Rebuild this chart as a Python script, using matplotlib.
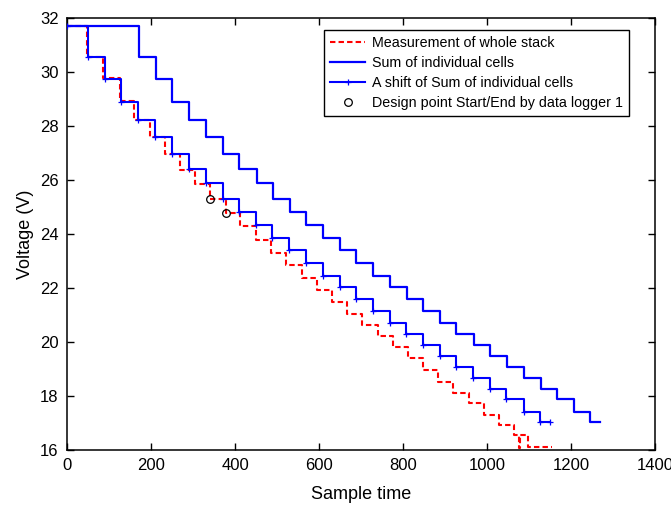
import matplotlib
matplotlib.use("Agg")
import matplotlib.pyplot as plt
import numpy as np

plt.rcParams['font.family'] = ['Liberation Sans', 'DejaVu Sans']

# Sum of individual cells: time of each voltage drop and the level after it
sum_start = 31.7
sum_drop_t = [171, 211, 249, 290, 330, 371, 410, 452, 491, 530, 570, 609, 649, 689,
              729, 769, 809, 848, 888, 927, 968, 1007, 1047, 1087, 1128, 1166, 1207, 1245]
sum_levels = [30.57, 29.73, 28.90, 28.21, 27.60, 26.97, 26.40, 25.87, 25.31, 24.82, 24.32,
              23.85, 23.39, 22.93, 22.46, 22.03, 21.60, 21.15, 20.71, 20.31, 19.89, 19.48,
              19.06, 18.66, 18.26, 17.88, 17.42, 17.05]
sum_end_t = 1269

# the shifted curve is the same sum moved back in time
shift_offset = 120

# Measurement of whole stack
meas_start = 31.7
meas_drop_t = [48, 86, 125, 160, 198, 233, 269, 305, 340, 378, 412, 450, 485, 522, 559, 595,
               630, 666, 702, 740, 775, 811, 847, 883, 920, 957, 993, 1029, 1065, 1077, 1079, 1098]
meas_levels = [30.57, 29.77, 28.93, 28.22, 27.58, 26.95, 26.37, 25.84, 25.30, 24.79, 24.30,
               23.78, 23.31, 22.85, 22.38, 21.94, 21.49, 21.04, 20.62, 20.23, 19.81, 19.39,
               18.96, 18.53, 18.12, 17.73, 17.30, 16.93, 16.56, 16.07, 16.56, 16.12]
meas_end_t = 1154

# design points (start / end) from data logger 1
design_t = [340, 378]
design_v = [25.30, 24.79]

sum_t = np.array([0] + sum_drop_t + [sum_end_t], dtype=float)
sum_v = np.array([sum_start] + sum_levels + [sum_levels[-1]])
shift_t = sum_t - shift_offset
shift_t[0] = 0
# drop the first point that would fall below zero after the shift
keep = np.concatenate([[True], sum_t[1:] - shift_offset > 0])
shift_t, shift_v = shift_t[keep], sum_v[keep]

meas_t = np.array([0] + meas_drop_t + [meas_end_t], dtype=float)
meas_v = np.array([meas_start] + meas_levels + [meas_levels[-1]])

fig = plt.figure(figsize=(6.71, 5.08), dpi=100)
ax = fig.add_axes([0.0999, 0.1142, 0.8763, 0.8504])

ax.plot(meas_t, meas_v, color='red', ls='--', lw=1.5, drawstyle='steps-post',
        dashes=(2.6, 1.5), label='Measurement of whole stack', zorder=2)
ax.plot(sum_t, sum_v, color='blue', lw=1.6, drawstyle='steps-post',
        label='Sum of individual cells', zorder=3)
ax.plot(shift_t, shift_v, color='blue', lw=1.5, drawstyle='steps-post', marker='+',
        markersize=5, markeredgewidth=0.9, label='A shift of Sum of individual cells', zorder=3)
ax.plot(design_t, design_v, ls='none', marker='o', markersize=5.5, markerfacecolor='none',
        markeredgecolor='black', markeredgewidth=0.9,
        label='Design point Start/End by data logger 1', zorder=4)

ax.set_xlim(0, 1400)
ax.set_ylim(16, 32)
ax.set_xticks(np.arange(0, 1401, 200))
ax.set_yticks(np.arange(16, 33, 2))
ax.tick_params(direction='in', top=True, right=True, length=5, width=1, labelsize=12, pad=6)
for s in ax.spines.values():
    s.set_linewidth(1.1)

ax.set_xlabel('Sample time', fontsize=13, labelpad=9)
ax.set_ylabel('Voltage (V)', fontsize=13, labelpad=4)

leg = ax.legend(loc='upper right', bbox_to_anchor=(0.955, 0.972), borderaxespad=0,
                fontsize=10.3, frameon=True, fancybox=False, framealpha=1,
                edgecolor='black', handlelength=2.5, labelspacing=0.42,
                handletextpad=0.45, borderpad=0.4)
leg.get_frame().set_linewidth(1.0)

fig.savefig('out.png', dpi=100)
